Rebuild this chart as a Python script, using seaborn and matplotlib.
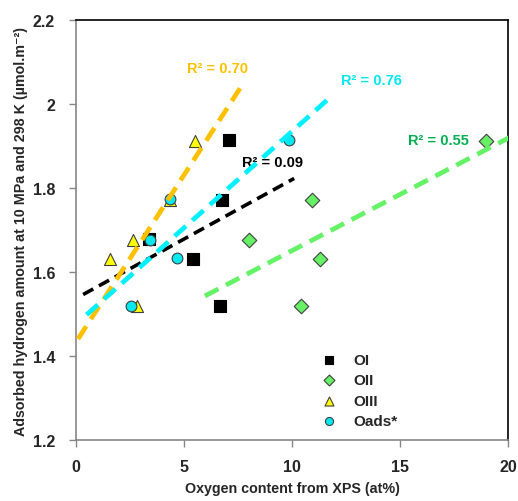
import numpy as np
import pandas as pd
import matplotlib
matplotlib.use("Agg")
import matplotlib.pyplot as plt
import seaborn as sns
from matplotlib.ticker import FuncFormatter

# ---- data ----
oi_x = [7.08, 6.76, 3.37, 5.42, 6.67]
oi_y = [1.914, 1.772, 1.678, 1.631, 1.519]
oii_x = [18.98, 10.94, 8.01, 11.30, 10.40]
oii_y = [1.913, 1.772, 1.677, 1.631, 1.519]
oiii_x = [5.50, 4.35, 2.65, 1.57, 2.84]
oiii_y = [1.912, 1.772, 1.677, 1.631, 1.519]
oads_x = [9.86, 4.35, 3.43, 4.66, 2.55]
oads_y = [1.915, 1.774, 1.677, 1.633, 1.520]
series_names = ["OI", "OII", "OIII", "Oads*"]
r2_labels = ["R² = 0.09", "R² = 0.55", "R² = 0.70", "R² = 0.76"]
x_ticks = [0, 5, 10, 15, 20]
y_ticks = [1.2, 1.4, 1.6, 1.8, 2.0, 2.2]

sns.set_theme(style="white")
plt.rcParams['font.family'] = ['Liberation Sans', 'DejaVu Sans']

fig = plt.figure(figsize=(5.18, 5.02), dpi=100)
ax = fig.add_axes([76/518, 1-441/502, 432/518, 420/502])

xs = [oi_x, oii_x, oiii_x, oads_x]
ys = [oi_y, oii_y, oiii_y, oads_y]
markers = ["s", "D", "^", "o"]
fills = ["#000000", "#66F066", "#FFFF00", "#00E8F0"]
edges = ["#000000", "#404040", "#404040", "#404040"]
sizes = [70, 55, 75, 60]
line_cols = ["#000000", "#66F266", "#FFC000", "#00F0FF"]
line_w = [2.6, 3.4, 3.4, 3.4]
extents = [(0.33, 10.1), (5.97, 20.5), (-0.5, 7.6), (0.49, 11.85)]

for name, x, y, m, fc, ec, s in zip(series_names, xs, ys, markers, fills, edges, sizes):
    df = pd.DataFrame({"x": x, "y": y})
    sns.scatterplot(data=df, x="x", y="y", marker=m, color=fc, edgecolor=ec,
                    linewidth=0.8, s=s, ax=ax, label=name, zorder=3)

for x, y, c, lw, (x0, x1) in zip(xs, ys, line_cols, line_w, extents):
    k, b = np.polyfit(x, y, 1)
    xx = np.array([x0, x1])
    fit = pd.DataFrame({"x": xx, "y": k * xx + b})
    sns.lineplot(data=fit, x="x", y="y", ax=ax, color=c, lw=lw,
                 dashes=False, zorder=4, legend=False)
    ax.lines[-1].set_linestyle((0, (3.2, 1.8)))

# R² labels
txt_pos = [(9.12, 1.862), (16.76, 1.915), (6.57, 2.086), (13.7, 2.056)]
txt_col = ["#000000", "#00B050", "#FFC000", "#00E8F0"]
for t, (tx, ty), c in zip(r2_labels, txt_pos, txt_col):
    ax.text(tx, ty, t, color=c, fontsize=10.5, fontweight="bold", ha="center", va="center")

ax.set_xlim(0, 20)
ax.set_ylim(1.2, 2.2)
ax.set_xticks(x_ticks)
ax.set_yticks(y_ticks)
ax.yaxis.set_major_formatter(FuncFormatter(lambda v, p: f"{v:g}"))
for lab in ax.get_xticklabels() + ax.get_yticklabels():
    lab.set_fontweight("bold")
ax.tick_params(axis="both", which="major", direction="out", length=5, width=1,
               color="#868686", labelsize=11.5, left=True, bottom=True)
ax.tick_params(axis="x", pad=9)
ax.tick_params(axis="y", pad=10)

for side in ["left", "bottom"]:
    ax.spines[side].set_color("#868686")
    ax.spines[side].set_linewidth(1.2)
for side in ["top", "right"]:
    ax.spines[side].set_color("#000000")
    ax.spines[side].set_linewidth(1.2)

ax.set_xlabel("Oxygen content from XPS (at%)", fontsize=10.3, fontweight="bold", labelpad=5)
ax.set_ylabel("Adsorbed hydrogen amount at 10 MPa and 298 K (µmol.m⁻²)",
              fontsize=10.3, fontweight="bold", labelpad=3)

leg = ax.legend(loc="upper left", bbox_to_anchor=(0.55, 0.222), frameon=False,
                fontsize=11, handletextpad=1.0, labelspacing=0.42,
                borderaxespad=0, handlelength=1.2, markerscale=0.75)
for t in leg.get_texts():
    t.set_fontweight("bold")

fig.savefig("out.png", dpi=100)
